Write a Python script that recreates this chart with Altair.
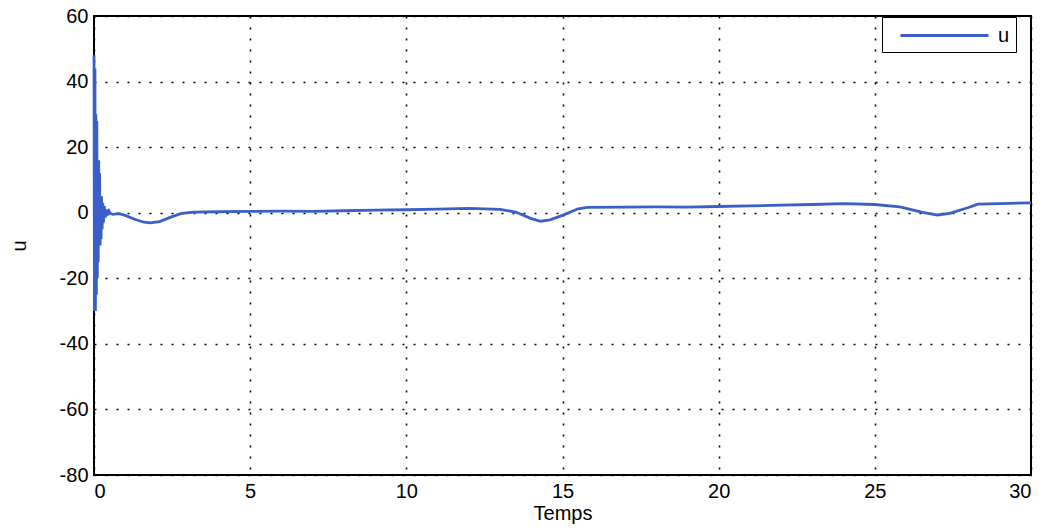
import altair as alt
import pandas as pd

# time (Temps) and control signal u
temps = [0.0, 0.015, 0.03, 0.045, 0.06, 0.075, 0.09, 0.105, 0.12, 0.135, 0.15,
         0.165, 0.18, 0.195, 0.21, 0.225, 0.24, 0.26, 0.28, 0.30, 0.33, 0.36,
         0.40, 0.44, 0.48, 0.52,
         0.6, 0.8, 1.0, 1.3, 1.6, 1.8, 2.1, 2.5, 2.8, 3.2, 4, 5, 6, 7, 8, 9, 10,
         11, 12, 13, 13.5, 14, 14.3, 14.6, 15, 15.5, 15.8, 17, 18, 19, 20, 21,
         22, 23, 24, 25, 25.8, 26.5, 27, 27.4, 28, 28.3, 29, 30]
u = [48, -30, 44, -30, 30, -25, 28, -20, 16, -15, 16, -10, 12, -10, 5, -8,
     5, -5, 3, -3, 2, -1.5, 1, -0.8, 0.5, -0.2,
     -0.5, -0.3, -0.8, -2.0, -2.9, -3.1, -2.7, -1.2, -0.2, 0.2, 0.3, 0.4, 0.5,
     0.4, 0.6, 0.8, 0.9,
     1.1, 1.3, 1.0, 0.2, -1.8, -2.6, -2.2, -0.8, 1.2, 1.6, 1.7, 1.8, 1.7, 1.9,
     2.1, 2.3, 2.5, 2.8, 2.5, 1.8, 0.2, -0.7, -0.2, 1.6, 2.6, 2.8, 3.0]

x_ticks = [0, 5, 10, 15, 20, 25, 30]
y_ticks = [-80, -60, -40, -20, 0, 20, 40, 60]

df = pd.DataFrame({"Temps": temps, "u": u, "serie": ["u"] * len(temps)})

FONT = "Liberation Sans"

chart = alt.Chart(df).mark_line(strokeWidth=2.8, interpolate="linear").encode(
    x=alt.X("Temps:Q",
            scale=alt.Scale(domain=[0, 30], nice=False, zero=False),
            axis=alt.Axis(values=x_ticks, title="Temps", grid=True,
                          ticks=False, domain=False, labelPadding=6,
                          titlePadding=2, labelExpr="'' + datum.value")),
    y=alt.Y("u:Q",
            scale=alt.Scale(domain=[-80, 60], nice=False),
            axis=alt.Axis(values=y_ticks, title="u", grid=True,
                          ticks=False, domain=False, labelPadding=6,
                          titlePadding=30, labelExpr="'' + datum.value")),
    color=alt.Color("serie:N",
                    scale=alt.Scale(range=["#3b5fc7"]),
                    legend=alt.Legend(title=None, orient="none",
                                      legendX=788, legendY=1,
                                      symbolType="M0,0L8,0",
                                      symbolSize=484,
                                      symbolStrokeWidth=2.8,
                                      strokeColor="black",
                                      padding=6,
                                      labelFontSize=20,
                                      labelFont=FONT,
                                      labelOffset=85,
                                      labelExpr="datum.label + '      '",
                                      fillColor="white")),
    order=alt.Order("Temps:Q"),
).properties(
    width=937,
    height=459,
    autosize=alt.AutoSizeParams(type="none"),
    padding={"left": 94, "top": 16, "right": 16, "bottom": 53},
).configure_view(
    stroke="black", strokeWidth=2
).configure_axis(
    gridColor="black", gridDash=[2, 9], gridWidth=1.6, gridOpacity=1,
    labelFont=FONT, labelFontSize=20, labelColor="black",
    titleFont=FONT, titleFontSize=20, titleColor="black",
    titleFontWeight="normal"
)

chart.save("out.html", embed_options={"renderer": "svg", "actions": False})
